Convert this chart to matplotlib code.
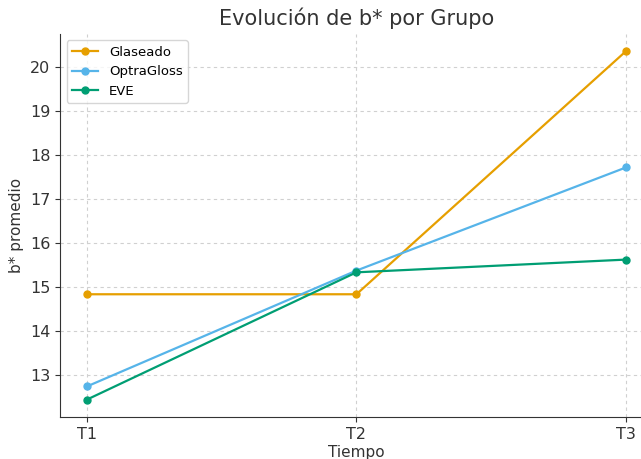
import matplotlib.pyplot as plt
import numpy as np

tiempos = ['T1', 'T2', 'T3']
glaseado = [14.83, 14.83, 20.37]
optragloss = [12.73, 15.37, 17.72]
eve = [12.43, 15.33, 15.62]

fig = plt.figure(figsize=(6.41, 4.59), dpi=100)
ax = fig.add_axes([0.0936, 0.0915, 0.925, 0.835])

x = np.arange(len(tiempos))
ax.plot(x, glaseado, marker='o', ms=5, lw=1.6, color='#E69F00', label='Glaseado')
ax.plot(x, optragloss, marker='o', ms=5, lw=1.6, color='#56B4E9', label='OptraGloss')
ax.plot(x, eve, marker='o', ms=5, lw=1.6, color='#009E73', label='EVE')

ax.set_xticks(x)
ax.set_xticklabels(tiempos)
ax.tick_params(labelsize=11.5, colors='#333333')
ax.set_title('Evolución de b* por Grupo', fontsize=15, color='#333333')
ax.set_xlabel('Tiempo', fontsize=11, color='#333333', labelpad=2)
ax.set_ylabel('b* promedio', fontsize=11, color='#333333')
ax.grid(True, linestyle=(0, (3, 3)), color='#d0d0d0', lw=0.8)
ax.spines['top'].set_visible(False)
ax.spines['right'].set_visible(False)
ax.spines['left'].set_color('#333333')
ax.spines['bottom'].set_color('#333333')
ax.legend(loc='upper left', fontsize=9.5)

fig.savefig('out.png', dpi=100)
